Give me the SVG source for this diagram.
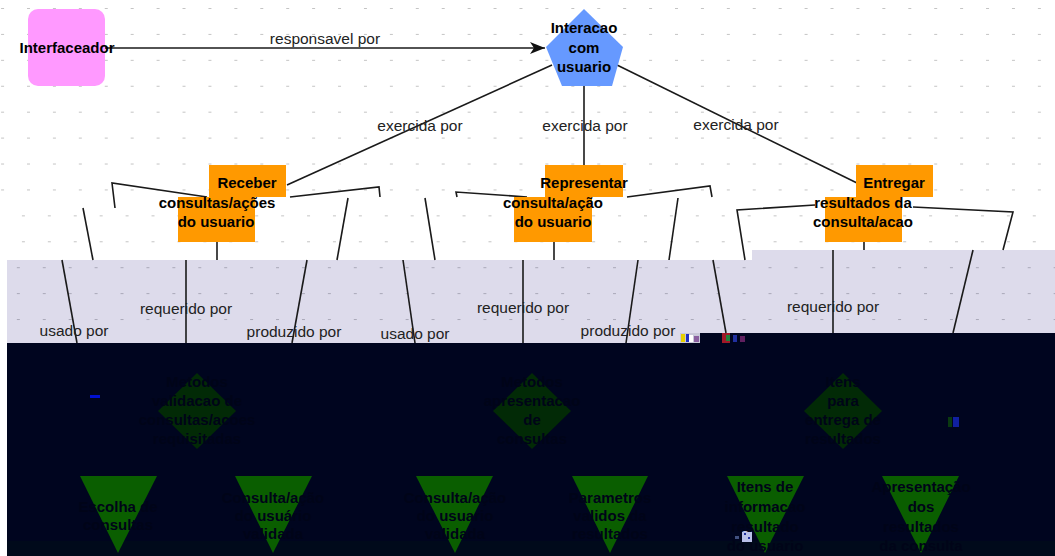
<svg xmlns="http://www.w3.org/2000/svg" width="1055" height="556" viewBox="0 0 1055 556">
<defs>
<pattern id="g0" x="27" y="8" width="25.92" height="25.92" patternUnits="userSpaceOnUse"><rect x="0" y="0" width="3" height="1" fill="#c4c4c4"/></pattern>
<pattern id="g1" x="-4" y="8" width="25.92" height="25.92" patternUnits="userSpaceOnUse"><rect x="0" y="0" width="3" height="1" fill="#c4c4c4"/></pattern>
<pattern id="g2" x="-35" y="8" width="25.92" height="25.92" patternUnits="userSpaceOnUse"><rect x="0" y="0" width="3" height="1" fill="#a9a8b8"/></pattern>
<marker id="arr" markerWidth="16" markerHeight="14" refX="15" refY="7" orient="auto" markerUnits="userSpaceOnUse"><path d="M0,1 L15,7 L0,13 L4,7 Z" fill="#111"/></marker>
<style>
.ln{stroke:#1a1a1a;stroke-width:1.6;fill:none}
.lbl{font-family:"Liberation Sans",Arial,sans-serif;font-size:15.5px;fill:#222;text-anchor:middle}
.nt{font-family:"Liberation Sans",Arial,sans-serif;font-size:15px;font-weight:bold;fill:#000;text-anchor:middle}
.dt{font-family:"Liberation Sans",Arial,sans-serif;font-size:15px;font-weight:bold;fill:#000418;text-anchor:middle}
.or{fill:#ff9900}
.dia{fill:#022a06}
.tri{fill:#0a5e00}
</style>
</defs>
<!-- backgrounds -->
<rect x="0" y="0" width="1055" height="556" fill="#ffffff"/>
<rect x="0" y="0" width="1055" height="197" fill="url(#g0)"/>
<rect x="0" y="197" width="1055" height="63" fill="url(#g1)"/>
<rect x="7" y="260" width="693" height="83" fill="#dddbeb"/>
<rect x="700" y="260" width="52" height="73" fill="#dddbeb"/>
<rect x="752" y="250" width="303" height="83" fill="#dddbeb"/>
<rect x="7" y="260" width="745" height="83" fill="url(#g2)"/>
<rect x="752" y="250" width="303" height="83" fill="url(#g2)"/>
<rect x="7" y="343" width="1048" height="213" fill="#00051f"/>
<rect x="700" y="333" width="355" height="10" fill="#00051f"/>
<rect x="7" y="541" width="1048" height="15" fill="#000a1b"/>
<!-- glitch patches -->
<rect x="680" y="333" width="20" height="10" fill="#c8c8d8"/>
<rect x="681" y="334" width="4" height="8" fill="#e6d000"/>
<rect x="686" y="334" width="3" height="8" fill="#2030c0"/>
<rect x="689" y="335" width="4" height="7" fill="#ffffff"/>
<rect x="694" y="336" width="5" height="6" fill="#8a60a0"/>
<rect x="722" y="333" width="8" height="10" fill="#a01828"/>
<rect x="726" y="335" width="4" height="6" fill="#20803a"/>
<rect x="733" y="335" width="4" height="7" fill="#2030a0"/>
<rect x="740" y="336" width="5" height="6" fill="#602060"/>
<rect x="90" y="395" width="10" height="3" fill="#0010d0"/>
<rect x="948" y="417" width="4" height="10" fill="#0a3a10"/>
<rect x="953" y="417" width="6" height="10" fill="#1020a0"/>
<rect x="742" y="531" width="10" height="11" fill="#b8c0e8"/>
<rect x="744" y="533" width="2" height="2" fill="#2030a0"/>
<rect x="748" y="537" width="2" height="2" fill="#2030a0"/>
<rect x="735" y="536" width="4" height="3" fill="#405080"/>

<!-- connectors -->
<g id="connectors">
<line class="ln" x1="105" y1="48" x2="545" y2="48" marker-end="url(#arr)"/>
<line class="ln" x1="552" y1="65" x2="287" y2="185"/>
<line class="ln" x1="584" y1="86" x2="584" y2="165"/>
<line class="ln" x1="617" y1="65" x2="857" y2="183"/>
<!-- Receber -->
<polyline class="ln" points="207,197 112,183 115,208"/>
<polyline class="ln" points="290,197 379,187 380,197"/>
<line class="ln" x1="83" y1="208" x2="93" y2="260"/>
<line class="ln" x1="217" y1="242" x2="217" y2="260"/>
<line class="ln" x1="348" y1="198" x2="337" y2="260"/>
<line class="ln" x1="62" y1="260" x2="77" y2="343"/>
<line class="ln" x1="186" y1="260" x2="186" y2="343"/>
<line class="ln" x1="307" y1="260" x2="292" y2="343"/>
<!-- Representar -->
<polyline class="ln" points="527,197 456,192 457,197"/>
<polyline class="ln" points="627,197 710,186 712,197"/>
<line class="ln" x1="425" y1="198" x2="435" y2="260"/>
<line class="ln" x1="554" y1="242" x2="554" y2="260"/>
<line class="ln" x1="678" y1="198" x2="669" y2="260"/>
<line class="ln" x1="403" y1="260" x2="415" y2="343"/>
<line class="ln" x1="523" y1="260" x2="523" y2="343"/>
<line class="ln" x1="638" y1="260" x2="626" y2="343"/>
<!-- Entregar -->
<polyline class="ln" points="815,205 737,210 745,260"/>
<polyline class="ln" points="913,207 1013,212 1003,250"/>
<line class="ln" x1="864" y1="242" x2="864" y2="250"/>
<line class="ln" x1="713" y1="260" x2="726" y2="333"/>
<line class="ln" x1="833" y1="250" x2="833" y2="333"/>
<line class="ln" x1="973" y1="250" x2="953" y2="333"/>
<!-- labels -->
<text class="lbl" x="325" y="44">responsavel por</text>
<text class="lbl" x="420" y="131">exercida por</text>
<text class="lbl" x="585" y="131">exercida por</text>
<text class="lbl" x="736" y="130">exercida por</text>
<text class="lbl" x="74" y="336">usado por</text>
<text class="lbl" x="186" y="314">requerido por</text>
<text class="lbl" x="294" y="337">produzido por</text>
<text class="lbl" x="415" y="339">usado por</text>
<text class="lbl" x="523" y="313">requerido por</text>
<text class="lbl" x="628" y="336">produzido por</text>
<text class="lbl" x="833" y="312">requerido por</text>
</g>

<g id="interfaceador">
<rect x="28" y="9" width="77" height="77" rx="10" fill="#ff99ff"/>
<text class="nt" x="67" y="53">Interfaceador</text>
</g>
<g id="interacao">
<polygon points="584,9 623,47 612,86 562,86 546,47" fill="#6699ff"/>
<text class="nt" x="584" y="33">Interacao</text>
<text class="nt" x="584" y="52.5">com</text>
<text class="nt" x="584" y="72">usuario</text>
</g>
<g id="receber">
<rect class="or" x="209" y="165" width="77" height="32"/>
<rect class="or" x="178" y="197" width="77" height="45"/>
<text class="nt" x="247" y="188">Receber</text>
<text class="nt" x="217" y="208">consultas/ações</text>
<text class="nt" x="216" y="227">do usuario</text>
</g>
<g id="representar">
<rect class="or" x="545" y="165" width="78" height="32"/>
<rect class="or" x="514" y="197" width="78" height="45"/>
<text class="nt" x="584" y="188">Representar</text>
<text class="nt" x="553" y="208">consulta/ação</text>
<text class="nt" x="553" y="227">do usuario</text>
</g>
<g id="entregar">
<rect class="or" x="856" y="165" width="77" height="32"/>
<rect class="or" x="825" y="197" width="77" height="45"/>
<text class="nt" x="894" y="188">Entregar</text>
<text class="nt" x="863" y="208">resultados da</text>
<text class="nt" x="863" y="227">consulta/acao</text>
</g>

<g id="d1">
<polygon class="dia" points="197,373 236,411 197,449 158,411"/>
<text class="dt" x="197" y="387">Metodos</text>
<text class="dt" x="197" y="406">validacao de</text>
<text class="dt" x="197" y="425">consultas/acoes</text>
<text class="dt" x="197" y="444">requisitadas</text>
</g>
<g id="d2">
<polygon class="dia" points="532,373 571,411 532,449 493,411"/>
<text class="dt" x="532" y="387">Metodos</text>
<text class="dt" x="532" y="406">apresentacao</text>
<text class="dt" x="532" y="425">de</text>
<text class="dt" x="532" y="444">consultas</text>
</g>
<g id="d3">
<polygon class="dia" points="843,373 882,411 843,449 804,411"/>
<text class="dt" x="843" y="387">Itens</text>
<text class="dt" x="843" y="406">para</text>
<text class="dt" x="843" y="425">entrega de</text>
<text class="dt" x="843" y="444">resultados</text>
</g>
<g id="t1">
<polygon class="tri" points="80,476 157,476 118,553"/>
<text class="dt" x="118" y="512">Escolha de</text>
<text class="dt" x="118" y="530">consultas</text>
</g>
<g id="t2">
<polygon class="tri" points="235,476 312,476 273,553"/>
<text class="dt" x="273" y="503">Consulta/ação</text>
<text class="dt" x="273" y="521">do usuário</text>
<text class="dt" x="273" y="539">validada</text>
</g>
<g id="t3">
<polygon class="tri" points="416,476 493,476 455,553"/>
<text class="dt" x="455" y="503">Consulta/ação</text>
<text class="dt" x="455" y="521">do usuario</text>
<text class="dt" x="455" y="539">validada</text>
</g>
<g id="t4">
<polygon class="tri" points="572,476 648,476 610,553"/>
<text class="dt" x="610" y="503">Parametros</text>
<text class="dt" x="610" y="521">validos da</text>
<text class="dt" x="610" y="539">resultados</text>
</g>
<g id="t5">
<polygon class="tri" points="727,476 804,476 765,553"/>
<text class="dt" x="765" y="492">Itens de</text>
<text class="dt" x="765" y="512">informacao</text>
<text class="dt" x="765" y="532">resultado</text>
<text class="dt" x="765" y="551">do usuario</text>
</g>
<g id="t6">
<polygon class="tri" points="882,476 959,476 921,553"/>
<text class="dt" x="921" y="492">Apresentação</text>
<text class="dt" x="921" y="512">dos</text>
<text class="dt" x="921" y="532">resultados</text>
<text class="dt" x="921" y="551">da consulta</text>
</g>
</svg>
